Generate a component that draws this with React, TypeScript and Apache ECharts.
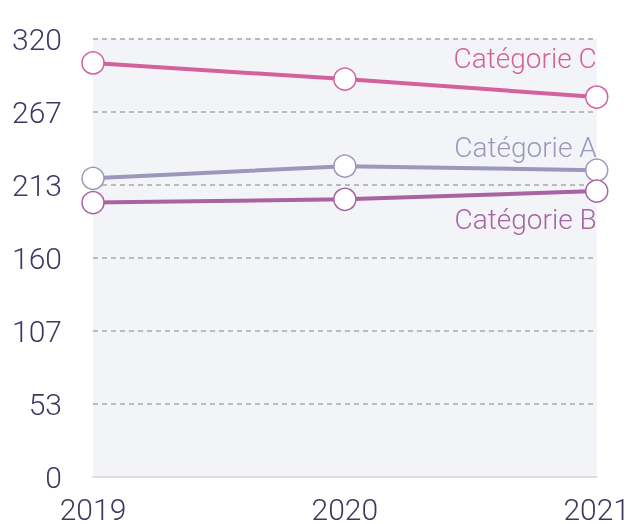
import React, { useEffect, useRef } from "react";
import * as echarts from "echarts";

const years = ["2019", "2020", "2021"];
const yTicks = [0, 53, 107, 160, 213, 267, 320];
const seriesNames = ["Catégorie C", "Catégorie A", "Catégorie B"];
const valuesC = [302.5, 290.7, 277.6];
const valuesA = [218.2, 227.1, 224.2];
const valuesB = [200.5, 202.9, 208.9];
const colors = ["#d3619c", "#9c97bb", "#a962a2"];
const labelOffsets = [-39, -23, 28];

export default function App() {
  const ref = useRef<HTMLDivElement>(null);
  useEffect(() => {
    if (!ref.current) return;
    const chart = echarts.init(ref.current, null, { renderer: "svg" });
    const font = "Roboto";
    const data = [valuesC, valuesA, valuesB];
    const series = data.map((vals, i) => ({
      name: seriesNames[i],
      type: "line",
      data: vals.map((v, j) =>
        j === vals.length - 1
          ? {
              value: v,
              label: {
                show: true,
                formatter: seriesNames[i],
                position: "inside",
                align: "right",
                verticalAlign: "middle",
                offset: [0, labelOffsets[i]],
                color: colors[i],
                fontFamily: font,
                fontWeight: 300,
                fontSize: 28,
              },
            }
          : v
      ),
      symbol: "circle",
      symbolSize: 22,
      showSymbol: true,
      lineStyle: { color: colors[i], width: 4 },
      itemStyle: { color: "#ffffff", borderColor: colors[i], borderWidth: 1.5 },
      emphasis: { disabled: true },
      z: 2 + i,
    }));
    chart.setOption({
      animation: false,
      grid: {
        left: 93,
        right: 35,
        top: 39,
        bottom: 45,
        show: true,
        backgroundColor: "#f3f4f8",
        borderWidth: 0,
      },
      xAxis: {
        type: "category",
        data: years,
        boundaryGap: false,
        axisLine: { show: true, lineStyle: { color: "#dddddd", width: 2 } },
        axisTick: { show: false },
        axisLabel: {
          color: "#3b3960",
          fontFamily: font,
          fontWeight: 300,
          fontSize: 30,
          margin: 17,
        },
      },
      yAxis: {
        type: "value",
        min: 0,
        max: 320,
        interval: 320 / 6,
        axisLine: { show: false },
        axisTick: { show: false },
        splitLine: {
          show: true,
          lineStyle: { color: "#bbbbbb", width: 2, type: [5, 4] },
        },
        axisLabel: {
          color: "#3b3960",
          fontFamily: font,
          fontWeight: 300,
          fontSize: 30,
          margin: 31,
          formatter: (v: number) => {
            const idx = Math.round(v / (320 / 6));
            return String(yTicks[idx]);
          },
        },
      },
      series,
    });
    return () => chart.dispose();
  }, []);
  return (
    <div
      ref={ref}
      style={{ position: "fixed", left: 0, top: 0, width: 633, height: 524 }}
    />
  );
}
